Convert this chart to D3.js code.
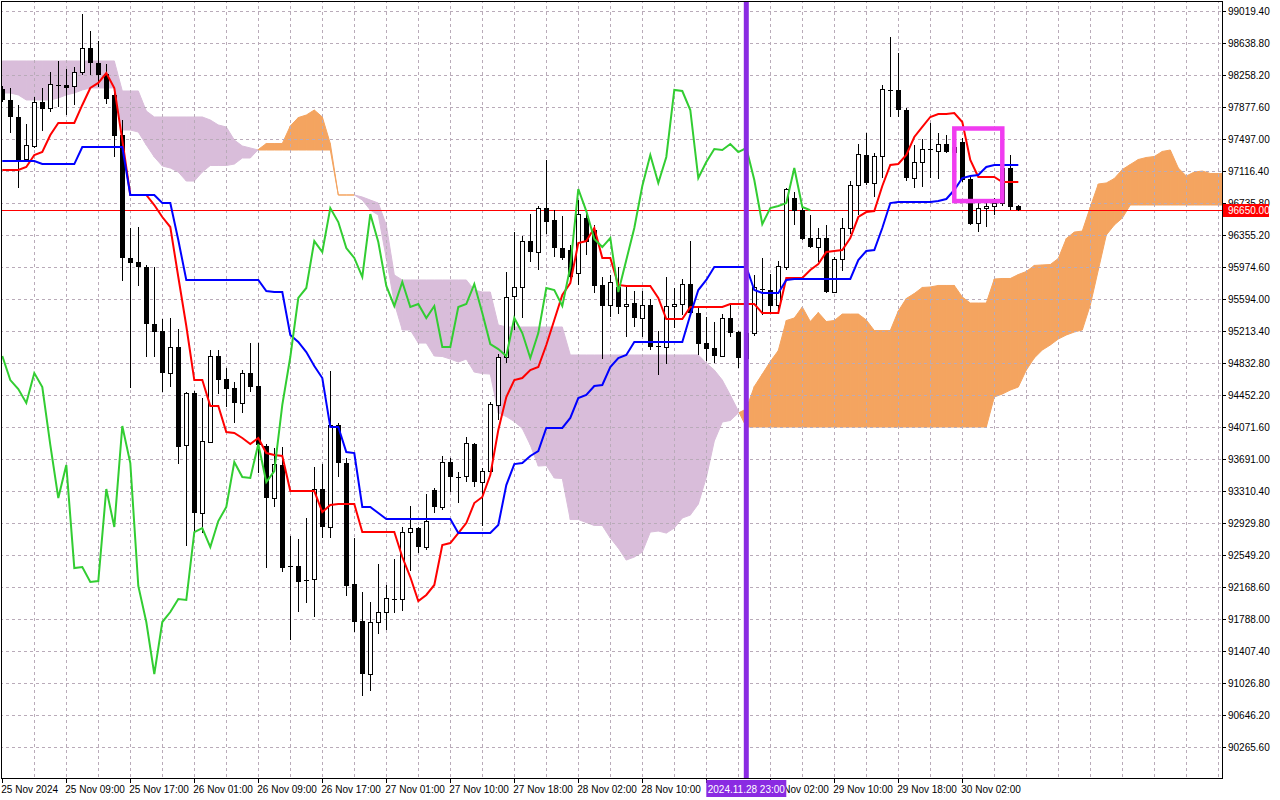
<!DOCTYPE html>
<html>
<head>
<meta charset="utf-8">
<script src="https://cdn.jsdelivr.net/npm/d3@7"></script>
<style>
body { margin: 0; background: #fff; }
svg { display: block; font-family: "Liberation Sans", Arial, sans-serif; }
</style>
</head>
<body>
<div id="chart"></div>
<script>
var width = 1280, height = 800;
var plotRight = 1222, plotBottom = 778;

// hourly candles, bar 0 = 25 Nov 2024
var open = [98092,97961,97759,97259,97402,97937,97854,98140,98140,98116,
  98282,98579,98401,98270,98021,97545,96082,96034,95975,95296,
  95213,94713,95023,93846,94475,93048,93893,94916,94642,94535,
  94357,94713,94559,93846,93227,93620,92418,92418,92252,92252,
  93334,92882,94096,93643,92204,91764,91122,91752,91871,92026,
  92014,92822,92870,92644,93322,93120,93655,93477,93477,93870,
  93417,93548,94322,94904,95618,95725,96283,96153,96676,96533,
  96200,96177,95903,96557,96414,95761,95511,95737,95499,95546,
  95368,95523,95035,95023,95499,95534,95772,95427,95070,95011,
  94916,95368,95201,94892,95189,95713,95701,95511,95963,96795,
  96652,96319,96212,96319,95677,96058,96438,96938,97307,96973,
  97283,98080,98080,97842,97033,97223,97378,97354,97437,97342,
  97461,97021,96497,96676,96700,96735,97152,96700];
var high = [98128,98104,97902,97675,97997,98104,98294,98425,98330,98354,
  98983,98781,98662,98389,98080,97723,96438,96450,95999,95975,
  95356,95368,95237,94487,94499,94416,94987,94987,94773,94606,
  94749,95070,95070,93870,93822,93834,92775,92739,92989,93596,
  93631,94737,94120,93703,92751,92109,91990,92441,92193,92501,
  92882,93132,92882,93274,93346,93727,93703,93536,93953,93881,
  93584,94369,94939,95915,96390,96343,96604,96700,97247,96652,
  96581,96236,96771,96628,96474,95856,95880,95975,95761,95689,
  95689,95594,95213,95856,95725,95832,96283,95511,95380,95320,
  95415,95534,95213,95285,95880,96082,95891,96046,96914,96866,
  96676,96593,96438,96474,96094,96557,96997,97437,97568,97330,
  98140,98710,98520,97866,97426,97497,97687,97568,97545,97509,
  97509,97069,96735,96771,96795,97247,97307,96712];
var low = [97937,97568,96914,97247,97390,97592,97818,97878,97783,97902,
  98259,98259,98116,97913,97283,95808,94535,95749,94904,94904,
  94487,94547,93631,92656,92810,92810,93881,94463,94310,94119,
  94238,94487,93524,92394,93120,92346,91538,91871,91978,91812,
  92751,92751,93477,92062,91633,90872,90931,91609,91657,91859,
  91883,92358,92572,92608,93048,93084,93298,93167,93417,93358,
  92894,93524,94155,94832,95225,95368,96034,95939,96366,96094,
  96058,95796,95761,96118,95665,94880,95380,95415,95142,95261,
  95142,94987,94690,94820,95249,95404,95404,94928,94856,94832,
  94904,95142,94773,94773,95154,95404,95427,95463,95939,96474,
  96295,96200,96034,95665,95665,95927,96366,96593,96950,96807,
  97033,97759,97759,96997,96914,96926,97033,97021,97330,97307,
  96985,96474,96390,96450,96593,96700,96652,96640];
var close = [97961,97759,97247,97414,97937,97854,98140,98128,98104,98282,
  98579,98401,98259,97973,97533,96082,96022,95975,95296,95201,
  94713,95023,93834,94475,93048,93905,94916,94630,94523,94357,
  94713,94547,93858,93227,93620,92394,92406,92228,92240,93334,
  92882,94084,93643,92181,91752,91133,91752,91871,92026,92014,
  92822,92870,92644,92953,93120,93655,93477,93465,93870,93417,
  93548,94334,94904,95606,95725,96283,96153,96676,96509,96200,
  96082,95856,96604,96271,95749,95511,95796,95499,95534,95368,
  95511,95023,95023,95499,95534,95772,95427,95058,94999,94916,
  95368,95189,94892,95189,95725,95701,95511,95975,96902,96640,
  96307,96212,96319,95677,96058,96438,96938,97307,96973,97283,
  98080,98068,97842,97033,97223,97378,97366,97437,97342,97390,
  97009,96485,96676,96700,96735,97152,96688,96650];

// Ichimoku lines
var tenkan = [97128,97128,97128,97164,97307,97342,97545,97687,97687,97687,
  97902,98104,98164,98282,98104,97485,96831,96831,96831,96712,
  96569,96450,95856,95273,94630,94630,94322,94322,94012,94000,
  93941,93870,93941,93762,93739,93727,93310,93310,93310,93310,
  93060,93144,93155,93155,93155,92822,92822,92822,92822,92822,
  92525,92287,92002,92074,92193,92668,92691,92810,92929,93167,
  93239,93500,94036,94428,94630,94654,94749,94785,95047,95344,
  95642,95784,96259,96283,96438,96082,96082,95761,95749,95749,
  95749,95749,95606,95356,95356,95356,95499,95499,95499,95499,
  95499,95534,95534,95534,95534,95427,95427,95427,95844,95844,
  95844,95939,96010,96153,96165,96177,96319,96569,96628,96640,
  96938,97188,97200,97307,97521,97640,97759,97795,97795,97806,
  97699,97247,97045,97045,97045,96985,96985,96985];
var kijun = [97235,97235,97235,97235,97235,97199,97199,97199,97199,97199,
  97402,97402,97402,97402,97402,97402,96831,96831,96831,96831,
  96735,96735,96295,95820,95820,95820,95820,95820,95820,95820,
  95820,95820,95820,95689,95677,95677,95166,95083,94963,94797,
  94654,94071,94071,93774,93762,93120,93120,93048,92977,92977,
  92977,92977,92977,92977,92977,92977,92977,92810,92810,92810,
  92810,92810,92906,93381,93631,93643,93727,93786,94060,94060,
  94060,94179,94416,94452,94559,94571,94785,94892,94928,95083,
  95083,95083,95083,95083,95083,95083,95404,95701,95820,95975,
  95975,95975,95975,95975,95701,95665,95665,95665,95820,95832,
  95832,95832,95832,95832,95832,95832,95832,96058,96165,96177,
  96438,96735,96747,96747,96747,96747,96747,96759,96783,96890,
  97033,97057,97069,97164,97188,97188,97188,97188];
var spanA = [98044,98044,98021,97961,97961,97961,97961,97985,98021,98044,
  98080,98104,98104,98104,98104,97604,97604,97580,97426,97283,
  97176,97152,97104,96997,96997,97104,97182,97182,97182,97199,
  97271,97271,97372,97443,97443,97443,97652,97752,97782,97842,
  97759,97443,96831,96831,96831,96771,96652,96593,96076,95546,
  95225,95225,95070,95070,94916,94910,94880,94844,94880,94725,
  94707,94701,94238,94196,94137,94054,93858,93607,93613,93465,
  93459,92971,92971,92935,92900,92900,92751,92632,92489,92525,
  92584,92822,92834,92810,92870,92989,93024,93155,93471,93905,
  94131,94149,94238,94286,94553,94701,94850,94981,95338,95368,
  95499,95326,95433,95326,95338,95415,95415,95415,95344,95219,
  95219,95219,95451,95600,95659,95731,95737,95755,95755,95755,
  95618,95546,95546,95546,95832,95838,95838,95885,95921,95993,
  95999,96004,96076,96313,96390,96402,96688,96962,96974,97027,
  97134,97194,97253,97277,97289,97349,97366,97152,97057,97104,
  97116,97087,97087,97087];
var spanB = [98425,98425,98425,98425,98425,98425,98425,98425,98425,98425,
  98425,98425,98425,98425,98425,98068,98068,98068,97830,97759,
  97759,97759,97759,97759,97759,97759,97723,97664,97640,97485,
  97414,97390,97366,97366,97366,97366,97366,97366,97366,97366,
  97366,97366,96831,96831,96831,96807,96771,96735,96474,95880,
  95820,95820,95820,95820,95820,95820,95820,95820,95820,95701,
  95677,95677,95285,95261,95261,95261,95261,95261,95261,95261,
  95261,94928,94928,94928,94928,94928,94928,94928,94928,94928,
  94928,94928,94928,94928,94928,94928,94928,94928,94832,94749,
  94630,94452,94262,94071,94071,94071,94071,94071,94071,94071,
  94071,94071,94071,94071,94071,94071,94071,94071,94071,94071,
  94071,94071,94071,94071,94071,94071,94071,94071,94071,94071,
  94071,94071,94071,94071,94428,94464,94511,94547,94749,94892,
  94987,95047,95118,95166,95201,95225,95523,95939,96355,96474,
  96557,96712,96712,96712,96712,96712,96712,96712,96712,96712,
  96712,96712,96712,96712];
// lagging span = close plotted 26 bars back
var chikou = close.slice(26);

var priceTicks = ["99019.40","98638.80","98258.20","97877.60","97497.00","97116.40",
  "96735.80","96355.20","95974.60","95594.00","95213.40","94832.80","94452.20",
  "94071.60","93691.00","93310.40","92929.80","92549.20","92168.60","91788.00",
  "91407.40","91026.80","90646.20","90265.60"];
var timeTickBars = [0,8,16,24,32,40,48,56,64,72,80,88,96,104,112,120];
var timeTickLabels = ["25 Nov 2024","25 Nov 09:00","25 Nov 17:00","26 Nov 01:00",
  "26 Nov 09:00","26 Nov 17:00","27 Nov 01:00","27 Nov 10:00","27 Nov 18:00",
  "28 Nov 02:00","28 Nov 10:00","28 Nov 18:00","29 Nov 02:00","29 Nov 10:00",
  "29 Nov 18:00","30 Nov 02:00"];

var lastPrice = 96650, lastPriceLabel = "96650.00";
var markerBar = 93, markerLabel = "2024.11.28 23:00";
// highlight box: bars 119..125, price 96759..97622
var boxBars = [119, 125], boxPrices = [96759, 97622];

var x = d3.scaleLinear().domain([0, 150]).range([2.3, 1202.3]);
var y = d3.scaleLinear().domain([90265.6, 99019.4]).range([747, 11]);

var svg = d3.select("#chart").append("svg")
    .attr("width", width)
    .attr("height", height);

svg.append("rect").attr("width", width).attr("height", height).attr("fill", "#fff");

svg.append("clipPath").attr("id", "plot")
  .append("rect").attr("x", 1).attr("y", 1).attr("width", plotRight - 1).attr("height", plotBottom - 1);

var g = svg.append("g").attr("clip-path", "url(#plot)");

//cloud, split where the spans cross
var bullCloud = "#F4A460", bearCloud = "#d9bdda";
function poly(pts, c) {
  g.append("path").attr("d", "M" + pts.join("L") + "Z")
    .attr("fill", c).attr("stroke", c).attr("stroke-width", 1);
}
for (var i = 0; i < spanA.length - 1; i++) {
  var d0 = spanA[i] - spanB[i], d1 = spanA[i + 1] - spanB[i + 1];
  var x0 = x(i), x1 = x(i + 1);
  if (d0 * d1 >= 0) {
    poly([[x0, y(spanA[i])], [x1, y(spanA[i + 1])], [x1, y(spanB[i + 1])], [x0, y(spanB[i])]],
      (d0 + d1) >= 0 ? bullCloud : bearCloud);
  } else {
    var t = d0 / (d0 - d1);
    var xc = x0 + t * (x1 - x0), pc = spanA[i] + t * (spanA[i + 1] - spanA[i]);
    poly([[x0, y(spanA[i])], [xc, y(pc)], [x0, y(spanB[i])]], d0 > 0 ? bullCloud : bearCloud);
    poly([[xc, y(pc)], [x1, y(spanA[i + 1])], [x1, y(spanB[i + 1])]], d1 > 0 ? bullCloud : bearCloud);
  }
}

//grid
var gridColor = "#b9abb9";
priceTicks.forEach(function(p) {
  var yy = Math.round(y(+p)) + 0.5;
  g.append("line").attr("x1", 0).attr("x2", plotRight).attr("y1", yy).attr("y2", yy)
    .attr("stroke", gridColor).attr("stroke-dasharray", "3,3");
});
for (var b = 4; x(b) < plotRight - 2; b += 4) {
  var xx = Math.round(x(b)) + 0.5;
  g.append("line").attr("x1", xx).attr("x2", xx).attr("y1", 0).attr("y2", plotBottom)
    .attr("stroke", gridColor).attr("stroke-dasharray", "3,3");
}

//last price line
var yLast = Math.round(y(lastPrice)) + 0.5;
g.append("line").attr("x1", 0).attr("x2", plotRight).attr("y1", yLast).attr("y2", yLast)
  .attr("stroke", "#ff0000").attr("stroke-width", 1);

//candles
var candles = g.append("g").attr("shape-rendering", "crispEdges");
close.forEach(function(c, i) {
  var cx = Math.round(x(i)) + 0.5;
  var o = open[i];
  candles.append("line").attr("x1", cx).attr("x2", cx)
    .attr("y1", y(high[i])).attr("y2", y(low[i])).attr("stroke", "#000");
  var top = Math.min(y(o), y(c)), h = Math.max(1, Math.abs(y(o) - y(c)));
  if (c < o) {
    candles.append("rect").attr("x", cx - 2.5).attr("y", top).attr("width", 5).attr("height", h)
      .attr("fill", "#000");
  } else {
    candles.append("rect").attr("x", cx - 2).attr("y", top).attr("width", 4).attr("height", h)
      .attr("fill", "#fff").attr("stroke", "#000");
  }
});

//indicator lines
function drawLine(values, color) {
  g.append("path").datum(values)
    .attr("d", d3.line().x(function(d, i) { return x(i); }).y(function(d) { return y(d); }))
    .attr("fill", "none").attr("stroke", color).attr("stroke-width", 2);
}
drawLine(tenkan, "#ff0000");
drawLine(kijun, "#0000ff");
drawLine(chikou, "#32cd32");

//vertical marker
g.append("line").attr("x1", x(markerBar)).attr("x2", x(markerBar)).attr("y1", 0).attr("y2", plotBottom)
  .attr("stroke", "#8a2be2").attr("stroke-width", 5);

//highlight box
g.append("rect")
  .attr("x", x(boxBars[0])).attr("y", y(boxPrices[1]))
  .attr("width", x(boxBars[1]) - x(boxBars[0])).attr("height", y(boxPrices[0]) - y(boxPrices[1]))
  .attr("fill", "none").attr("stroke", "#f03cf0").attr("stroke-width", 4.5);

//frame and axes
svg.append("path").attr("d", "M1.5," + (plotBottom + 0.5) + "V1.5H" + (plotRight + 0.5) + "V" + (plotBottom + 0.5) + "H1.5")
  .attr("fill", "none").attr("stroke", "#000").attr("shape-rendering", "crispEdges");

priceTicks.forEach(function(p) {
  var yy = Math.round(y(+p)) + 0.5;
  svg.append("line").attr("x1", plotRight).attr("x2", plotRight + 4).attr("y1", yy).attr("y2", yy)
    .attr("stroke", "#000");
  svg.append("text").attr("x", plotRight + 6).attr("y", yy).attr("dy", "0.35em")
    .style("font-size", "10px").text(p);
});

var markerLeft = x(markerBar) - 40, markerRight = x(markerBar) + 40;
timeTickBars.forEach(function(b, k) {
  var xx = Math.round(x(b)) + 0.5;
  svg.append("line").attr("x1", xx).attr("x2", xx).attr("y1", plotBottom).attr("y2", plotBottom + 5)
    .attr("stroke", "#000");
  // a label hidden entirely under the marker's time label is not shown
  if (x(b) >= markerLeft - 1 && x(b) + 60 <= markerRight) return;
  svg.append("text").attr("x", Math.max(1, x(b) - 1)).attr("y", 793)
    .style("font-size", "10px").text(timeTickLabels[k]);
});

//marker time label
svg.append("rect").attr("x", markerLeft).attr("y", plotBottom + 2).attr("width", 80).attr("height", 17)
  .attr("fill", "#8a2be2");
svg.append("text").attr("x", x(markerBar)).attr("y", 793).attr("text-anchor", "middle")
  .attr("fill", "#fff").style("font-size", "10px").text(markerLabel);

//last price label
svg.append("rect").attr("x", plotRight + 1).attr("y", yLast - 6.5).attr("width", 46).attr("height", 13)
  .attr("fill", "#ff0000");
svg.append("text").attr("x", plotRight + 6).attr("y", yLast).attr("dy", "0.35em")
  .attr("fill", "#fff").style("font-size", "10px").text(lastPriceLabel);
</script>
</body>
</html>
